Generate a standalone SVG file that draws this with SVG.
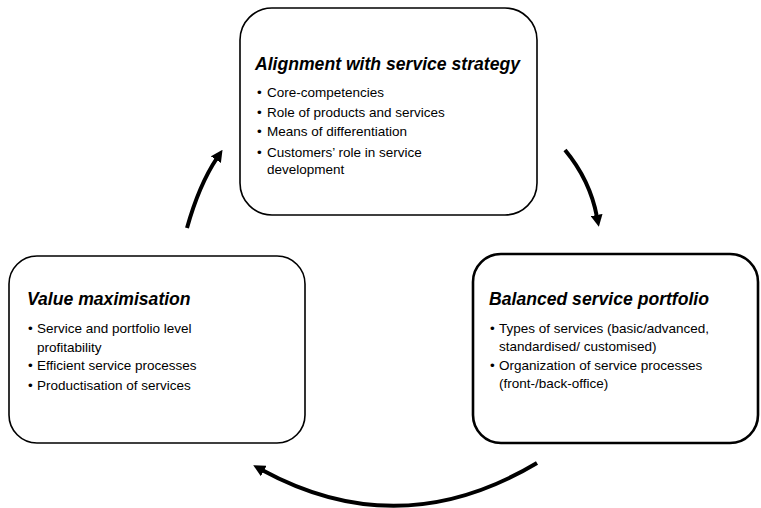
<svg xmlns="http://www.w3.org/2000/svg" width="761" height="508" viewBox="0 0 761 508">
<style>
.box{fill:#fff;stroke:#000;stroke-width:1.6}
.box.thick{stroke-width:2.6}
.title{font-family:"Liberation Sans",Arial,sans-serif;font-weight:bold;font-style:italic;font-size:17.6px;fill:#000}
.item{font-family:"Liberation Sans",Arial,sans-serif;font-size:13.5px;fill:#000}
.arrow{fill:none;stroke:#000;stroke-width:4;marker-end:url(#head)}
</style>
<defs>
<marker id="head" viewBox="0 0 12 12" markerWidth="12" markerHeight="12" refX="2" refY="6" orient="auto" markerUnits="userSpaceOnUse">
<path d="M0,0 L12,6 L0,12 z" fill="#000"/>
</marker>
</defs>
<rect width="761" height="508" fill="#fff"/>
<g id="node-alignment">
<rect class="box" x="240" y="8" width="297" height="207" rx="32" ry="32"/>
<text class="title" x="255" y="70">Alignment with service strategy</text>
<text class="item" x="257" y="97">•</text><text class="item" x="267" y="97">Core-competencies</text>
<text class="item" x="257" y="117">•</text><text class="item" x="267" y="117">Role of products and services</text>
<text class="item" x="257" y="136">•</text><text class="item" x="267" y="136">Means of differentiation</text>
<text class="item" x="257" y="157">•</text><text class="item" x="267" y="157">Customers’ role in service</text>
<text class="item" x="267" y="174">development</text>
</g>
<g id="node-value">
<rect class="box" x="9" y="256" width="296" height="187" rx="28" ry="28"/>
<text class="title" x="27" y="305">Value maximisation</text>
<text class="item" x="28" y="333">•</text><text class="item" x="37" y="333">Service and portfolio level</text>
<text class="item" x="37" y="352">profitability</text>
<text class="item" x="28" y="370">•</text><text class="item" x="37" y="370">Efficient service processes</text>
<text class="item" x="28" y="390">•</text><text class="item" x="37" y="390">Productisation of services</text>
</g>
<g id="node-balanced">
<rect class="box thick" x="473" y="254" width="285" height="189" rx="28" ry="28"/>
<text class="title" x="489" y="305">Balanced service portfolio</text>
<text class="item" x="490" y="333">•</text><text class="item" x="499" y="333">Types of services (basic/advanced,</text>
<text class="item" x="499" y="351">standardised/ customised)</text>
<text class="item" x="490" y="370">•</text><text class="item" x="499" y="370">Organization of service processes</text>
<text class="item" x="499" y="388">(front-/back-office)</text>
</g>
<g id="connectors">
<path class="arrow" d="M187,228 Q199,185 217,158"/>
<path class="arrow" d="M565,150 Q590,180 597,217"/>
<path class="arrow" d="M537,463 Q400,545 262,470"/>
</g>
</svg>
